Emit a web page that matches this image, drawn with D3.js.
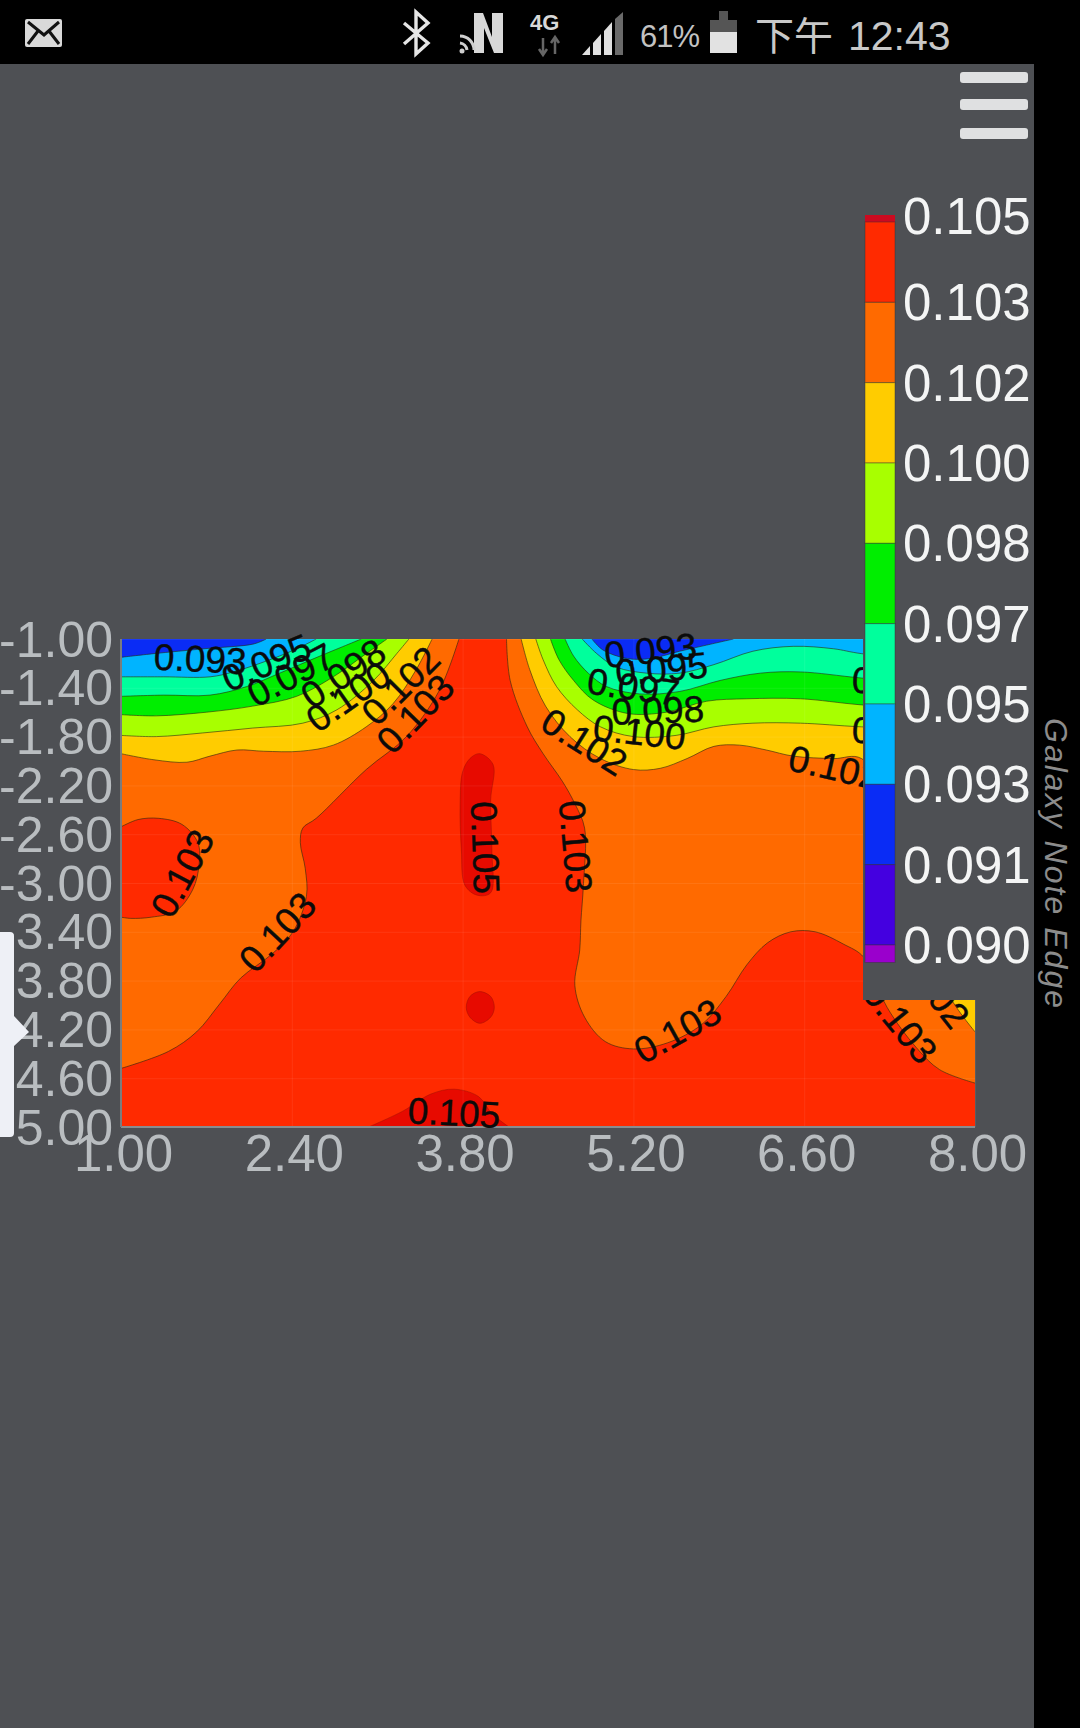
<!DOCTYPE html>
<html><head><meta charset="utf-8">
<script src="https://cdn.jsdelivr.net/npm/d3@7"></script>
<style>html,body{margin:0;padding:0;background:#4e5054}svg{display:block}text{font-family:"Liberation Sans",Arial,sans-serif}</style>
</head><body><svg id="c" width="1080" height="1728"></svg>
<script>
// ---- data ----
const xTicks=[1,2.4,3.8,5.2,6.6,8];
const yTicks=[-1,-1.4,-1.8,-2.2,-2.6,-3,-3.4,-3.8,-4.2,-4.6,-5];
const legendLabels=["0.105","0.103","0.102","0.100","0.098","0.097","0.095","0.093","0.091","0.090"];
const legendColors=["#ff2a00","#ff6a00","#ffcc00","#a8ff00","#00ee00","#00ff9c","#00b4ff","#0a2cf5","#4400e0"];
const legendCapTop="#cc0a20", legendCapBottom="#9a00cc";

// contour lines in data coordinates [x,y]
const c103Left=[[3.77,-1],[3.61,-1.42],[3.34,-1.8],[3.01,-2.07],[2.6,-2.47],[2.49,-2.55],[2.47,-2.67],[2.51,-2.88],[2.52,-3.11],[2.41,-3.4],[2.24,-3.58],[1.98,-3.78],[1.81,-3.99],[1.62,-4.22],[1.39,-4.38],[1,-4.52]];
const c103Right=[[4.16,-1],[4.19,-1.34],[4.33,-1.72],[4.46,-1.94],[4.62,-2.17],[4.72,-2.35],[4.8,-2.55],[4.79,-3.02],[4.77,-3.31],[4.76,-3.55],[4.72,-3.84],[4.8,-4.1],[4.97,-4.3],[5.2,-4.36],[5.48,-4.31],[5.76,-4.16],[5.96,-3.93],[6.13,-3.67],[6.3,-3.49],[6.49,-3.4],[6.69,-3.4],[6.92,-3.5],[7.09,-3.61],[7.28,-4.02],[7.52,-4.35],[7.71,-4.53],[8,-4.64]];
const c103Island=[[1,-2.54],[1.14,-2.48],[1.31,-2.47],[1.5,-2.52],[1.63,-2.67],[1.64,-2.85],[1.59,-3.05],[1.45,-3.23],[1.25,-3.28],[1.08,-3.29],[1,-3.28]];
const c102Left=[[1,-1.94],[1.27,-1.99],[1.54,-2.01],[1.73,-1.96],[1.95,-1.91],[2.17,-1.92],[2.47,-1.92],[2.74,-1.87],[3.01,-1.72],[3.23,-1.53],[3.42,-1.25],[3.55,-1]];
const c102Right=[[4.28,-1],[4.35,-1.25],[4.48,-1.55],[4.68,-1.8],[4.93,-1.98],[5.2,-2.07],[5.42,-2.06],[5.64,-1.98],[5.86,-1.88],[6.07,-1.87],[6.29,-1.91],[6.51,-1.96],[6.84,-1.98],[7.07,-1.98],[7.45,-2.6],[7.6,-3.5],[7.81,-3.96],[8,-4.22]];
const c100Left=[[1,-1.79],[1.29,-1.8],[1.67,-1.77],[2.08,-1.73],[2.49,-1.69],[2.77,-1.58],[3.07,-1.34],[3.26,-1.12],[3.36,-1]];
const c100Right=[[4.4,-1],[4.46,-1.17],[4.57,-1.39],[4.74,-1.58],[4.93,-1.72],[5.2,-1.8],[5.55,-1.79],[5.86,-1.72],[6.18,-1.69],[6.57,-1.69],[7.07,-1.72],[8,-1.75]];
const c098Left=[[1,-1.62],[1.29,-1.63],[1.7,-1.6],[2.08,-1.55],[2.44,-1.47],[2.74,-1.31],[3.01,-1.12],[3.18,-1]];
const c098Right=[[4.52,-1],[4.59,-1.17],[4.71,-1.34],[4.87,-1.5],[5.15,-1.61],[5.47,-1.6],[5.8,-1.51],[6.13,-1.49],[6.57,-1.49],[7.07,-1.54],[8,-1.6]];
const c097Left=[[1,-1.47],[1.35,-1.46],[1.73,-1.46],[2.03,-1.39],[2.3,-1.28],[2.63,-1.14],[2.97,-1]];
const c097Right=[[4.64,-1],[4.71,-1.14],[4.83,-1.28],[4.98,-1.39],[5.25,-1.45],[5.58,-1.43],[5.91,-1.34],[6.24,-1.28],[6.57,-1.27],[7.07,-1.32],[8,-1.4]];
const c095Left=[[1,-1.31],[1.35,-1.31],[1.73,-1.31],[1.92,-1.27],[2.22,-1.17],[2.44,-1.08],[2.6,-1]];
const c095Right=[[4.78,-1],[4.9,-1.12],[5.06,-1.23],[5.31,-1.28],[5.58,-1.28],[5.86,-1.21],[6.18,-1.1],[6.51,-1.06],[6.84,-1.08],[7.07,-1.12],[8,-1.2]];
const c093Left=[[1,-1.15],[1.27,-1.12],[1.68,-1.08],[2.09,-1.04],[2.19,-1]];
const c093Right=[[4.86,-1],[4.95,-1.09],[5.15,-1.16],[5.34,-1.16],[5.58,-1.1],[5.8,-1.05],[6.02,-1]];
const c105Long=[[3.94,-1.94],[4.05,-2.03],[4.03,-2.32],[4.04,-2.73],[4.03,-3.08],[3.92,-3.1],[3.82,-3.02],[3.79,-2.73],[3.78,-2.35],[3.8,-2.09],[3.86,-1.98]];
const c105Round=[[3.94,-3.89],[4.03,-3.93],[4.06,-4.02],[4.03,-4.1],[3.94,-4.15],[3.86,-4.1],[3.83,-4.02],[3.86,-3.93]];
const c105Bottom=[[3.03,-5],[3.31,-4.87],[3.54,-4.73],[3.73,-4.69],[3.93,-4.75],[4.04,-4.89],[4.18,-5]];

// contour labels: text, x, y, angle
const contourLabels=[
["0.093",1.65,-1.16,3],["0.095",2.19,-1.19,-23],["0.097",2.39,-1.29,-28],["0.098",2.82,-1.28,-34],
["0.100",2.86,-1.47,-35],["0.102",3.29,-1.38,-45],["0.103",3.41,-1.61,-46],
["0.103",1.5,-2.92,-62],["0.103",2.28,-3.4,-47],["0.105",3.99,-2.71,88],["0.105",3.73,-4.88,3],
["0.093",5.34,-1.09,-6],["0.095",5.43,-1.24,-5],["0.097",5.2,-1.39,8],["0.098",5.4,-1.58,-2],
["0.100",5.25,-1.76,6],["0.102",4.8,-1.84,32],["0.102",6.85,-2.05,13],["0.097",7.37,-1.35,3],
["0.100",7.37,-1.76,3],["0.103",4.73,-2.7,85],["0.103",5.56,-4.21,-29],["0.103",7.39,-4.14,51],["0.102",7.66,-3.85,52]];

// ---- drawing ----
const bg="#4e5054", W=1080,H=1728;
const svg=d3.select("#c");
const x=d3.scaleLinear().domain([1,8]).range([121,975]);
const y=d3.scaleLinear().domain([-1,-5]).range([639,1127]);
svg.append("rect").attr("width",W).attr("height",H).attr("fill",bg);

svg.append("clipPath").attr("id","plot").append("rect")
  .attr("x",x(1)).attr("y",y(-1)).attr("width",x(8)-x(1)).attr("height",y(-5)-y(-1));
const plot=svg.append("g").attr("clip-path","url(#plot)");
const [red,orange,yellow,lime,green,teal,sky,blue]=legendColors;
const darkRed="#e70a00";
plot.append("rect").attr("x",x(1)).attr("y",y(-1)).attr("width",x(8)-x(1)).attr("height",y(-5)-y(-1)).attr("fill",red);
const line=d3.line().x(d=>x(d[0])).y(d=>y(d[1])).curve(d3.curveCatmullRom.alpha(0.5));
const closed=d3.line().x(d=>x(d[0])).y(d=>y(d[1])).curve(d3.curveCatmullRomClosed.alpha(0.5));
const region=(pts,corners,fill)=>{
  plot.append("path").attr("d",line(pts)+corners.map(c=>"L"+x(c[0])+","+y(c[1])).join("")+"Z").attr("fill",fill).attr("stroke","none");
  plot.append("path").attr("d",line(pts)).attr("fill","none").attr("stroke","#2a2a10").attr("stroke-opacity",.6).attr("stroke-width",1);
};
const tl=[[1,-1]], tr=[[8,-1]];
region(c103Left,tl,orange);
region(c103Right,tr,orange);
region(c103Island,[],red);
region(c102Left,tl,yellow); region(c102Right,tr,yellow);
region(c100Left,tl,lime); region(c100Right,tr,lime);
region(c098Left,tl,green); region(c098Right,tr,green);
region(c097Left,tl,teal); region(c097Right,tr,teal);
region(c095Left,tl,sky); region(c095Right,tr,sky);
region(c093Left,tl,blue); region(c093Right,tr,blue);
plot.append("path").attr("d",closed(c105Long)).attr("fill",darkRed).attr("stroke","#a01000").attr("stroke-opacity",.5);
plot.append("path").attr("d",closed(c105Round)).attr("fill",darkRed).attr("stroke","#a01000").attr("stroke-opacity",.5);
plot.append("path").attr("d",line(c105Bottom)+"Z").attr("fill",darkRed).attr("stroke","#a01000").attr("stroke-opacity",.5);

// faint grid
const gridX=svg.append("g").attr("transform",`translate(0,${y(-5)})`)
  .call(d3.axisBottom(x).tickValues(xTicks).tickSize(-(y(-5)-y(-1))).tickFormat(""));
gridX.selectAll("line").attr("stroke","#fff").attr("stroke-opacity",.07);gridX.select(".domain").remove();
const gridY=svg.append("g").attr("transform",`translate(${x(1)},0)`)
  .call(d3.axisLeft(y).tickValues(yTicks).tickSize(-(x(8)-x(1))).tickFormat(""));
gridY.selectAll("line").attr("stroke","#fff").attr("stroke-opacity",.07);gridY.select(".domain").remove();

// frame
svg.append("line").attr("x1",x(1)).attr("x2",x(8)).attr("y1",y(-5)).attr("y2",y(-5)).attr("stroke","#8a8c8e").attr("stroke-width",2);
svg.append("line").attr("x1",x(1)).attr("x2",x(1)).attr("y1",y(-1)).attr("y2",y(-5)).attr("stroke","#7a7c7e").attr("stroke-width",2);

// contour labels
svg.append("g").selectAll("text").data(contourLabels).join("text")
  .attr("transform",d=>`translate(${x(d[1])},${y(d[2])}) rotate(${d[3]})`)
  .attr("text-anchor","middle").attr("dy",".36em")
  .attr("font-size",37).attr("fill","#0b0b0b").attr("stroke","#0b0b0b").attr("stroke-width",.4).text(d=>d[0]);

// axes
const axX=svg.append("g").attr("transform",`translate(2,${y(-5)})`)
  .call(d3.axisBottom(x).tickValues(xTicks).tickSize(0).tickPadding(8).tickFormat(d3.format(".2f")));
const axY=svg.append("g").attr("transform",`translate(${x(1)},1)`)
  .call(d3.axisLeft(y).tickValues(yTicks).tickSize(0).tickPadding(8).tickFormat(d=>d.toFixed(2)));
axX.select(".domain").remove();axY.select(".domain").remove();
axX.selectAll("text").attr("font-size",51).attr("font-family",'"Liberation Sans",Arial,sans-serif').attr("fill","#b9bdc0");
axY.selectAll("text").attr("font-size",50).attr("font-family",'"Liberation Sans",Arial,sans-serif').attr("fill","#b9bdc0");

// legend panel over the plot
svg.append("rect").attr("x",863).attr("y",64).attr("width",171).attr("height",936).attr("fill",bg);
const ly=d3.scalePoint().domain(legendLabels).range([222,945]);
const lg=svg.append("g");
lg.append("rect").attr("x",865).attr("y",215).attr("width",30).attr("height",7).attr("fill",legendCapTop);
lg.selectAll("rect.b").data(legendColors).join("rect").attr("class","b")
  .attr("x",865).attr("width",30).attr("y",(d,i)=>ly(legendLabels[i])).attr("height",(d,i)=>ly(legendLabels[i+1])-ly(legendLabels[i]))
  .attr("fill",d=>d).attr("stroke","#333").attr("stroke-opacity",.45).attr("stroke-width",1);
lg.append("rect").attr("x",865).attr("y",945).attr("width",30).attr("height",17.5).attr("fill",legendCapBottom).attr("stroke","#333").attr("stroke-opacity",.45);
lg.selectAll("text").data(legendLabels).join("text")
  .attr("x",903).attr("y",(d,i)=>ly(d)+18-(i===0?6:0)).attr("font-size",51).attr("fill","#f4f5f5").text(d=>d);

// right black strip
svg.append("rect").attr("x",1034).attr("y",0).attr("width",46).attr("height",H).attr("fill","#000");
svg.append("text").attr("transform","translate(1045,718) rotate(90)").attr("font-family",'Lato,sans-serif')
  .attr("font-style","italic").attr("font-size",32).attr("textLength",290).attr("fill","#8c8c8c").text("Galaxy Note Edge");

// menu icon
[72,99,128].forEach(t=>svg.append("rect").attr("x",960).attr("y",t).attr("width",68).attr("height",11).attr("rx",3).attr("fill","#dfe0e1"));

// left handle
svg.append("path").attr("d","M0,932H10Q14,932 14,936V1016L29,1032L14,1046V1133Q14,1137 10,1137H0Z").attr("fill","#eef0f6");

// status bar
svg.append("rect").attr("width",W).attr("height",64).attr("fill","#000");
const st=svg.append("g");
st.append("rect").attr("x",25).attr("y",19).attr("width",37).attr("height",28).attr("rx",2).attr("fill","#d9d9d9");
st.append("path").attr("d","M28,22L44,35L59,22M28,44L38,31M59,44L49,31").attr("fill","none").attr("stroke","#111").attr("stroke-width",3);
st.append("path").attr("d","M404,23L428,43L416,54V12L428,23L404,44").attr("fill","none").attr("stroke","#e6e6e6").attr("stroke-width",3.4);
st.append("path").attr("d","M474,53V13H483L492,37V13H503V53H494L484,28V53Z").attr("fill","#d8d8d8");
st.append("path").attr("d","M460,36A14,14 0 0 1 474,50M460,43A8,8 0 0 1 467,50").attr("fill","none").attr("stroke","#cfcfcf").attr("stroke-width",3);
st.append("circle").attr("cx",462).attr("cy",51).attr("r",2.5).attr("fill","#cfcfcf");
st.append("text").attr("x",530).attr("y",30).attr("font-size",22).attr("font-weight",700).attr("fill","#d8d8d8").text("4G");
st.append("path").attr("d","M543,38V54M539,49L543,55L547,49M555,54V38M551,43L555,37L559,43").attr("fill","none").attr("stroke","#666").attr("stroke-width",2.5);
st.append("path").attr("d","M582,55L590,46V55ZM593,55V43L601,34V55Z").attr("fill","#e0e0e0");
st.append("path").attr("d","M604,55V31L612,22V55Z").attr("fill","#e0e0e0");
st.append("path").attr("d","M615,55V19L623,12V55Z").attr("fill","#6a6a6a");
st.append("text").attr("x",640).attr("y",47).attr("font-size",31).attr("fill","#c2c2c2").attr("textLength",60).text("61%");
st.append("rect").attr("x",710).attr("y",20).attr("width",27).attr("height",33).attr("fill","#555");
st.append("rect").attr("x",719).attr("y",11).attr("width",9).attr("height",9).attr("fill","#555");
st.append("rect").attr("x",710).attr("y",32).attr("width",27).attr("height",21).attr("fill","#e2e2e2");
st.append("text").attr("x",755).attr("y",50).attr("font-size",39).attr("fill","#c8c8c8").attr("style",'font-family:"Noto Sans CJK TC"').text("下午");
st.append("text").attr("x",848).attr("y",50).attr("font-size",41).attr("fill","#c8c8c8").text("12:43");
</script></body></html>
